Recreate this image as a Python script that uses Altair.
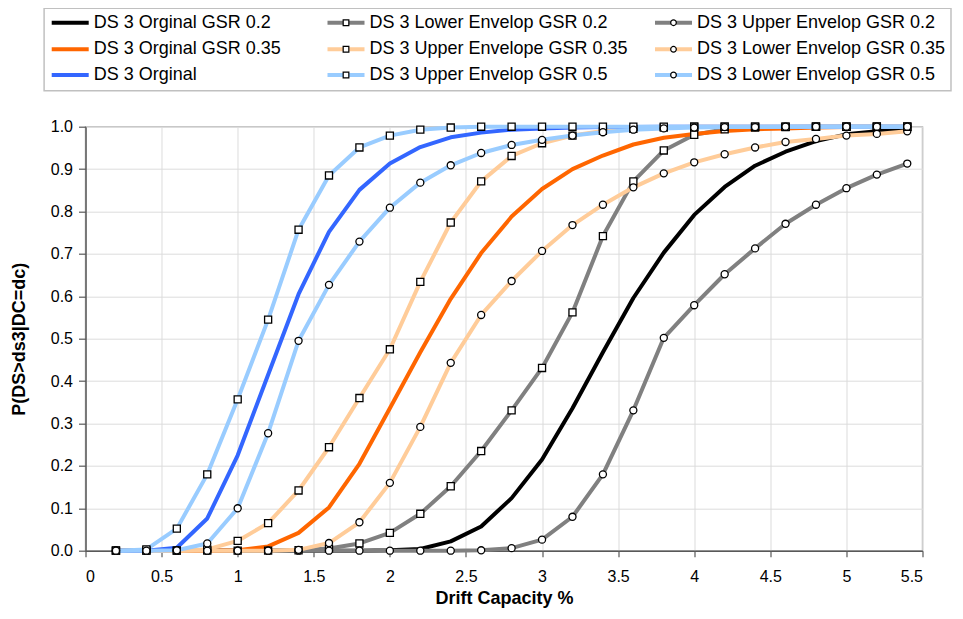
import altair as alt
import pandas as pd

# ---------------- data ----------------
drift = [0.2, 0.4, 0.6, 0.8, 1.0, 1.2, 1.4, 1.6, 1.8, 2.0, 2.2, 2.4, 2.6, 2.8,
         3.0, 3.2, 3.4, 3.6, 3.8, 4.0, 4.2, 4.4, 4.6, 4.8, 5.0, 5.2, 5.4]

series_names = [
    "DS 3 Orginal GSR 0.2", "DS 3 Lower Envelop GSR 0.2", "DS 3 Upper Envelop GSR 0.2",
    "DS 3 Orginal GSR 0.35", "DS 3 Upper Envelope GSR 0.35", "DS 3 Lower Envelop GSR 0.35",
    "DS 3 Orginal", "DS 3 Upper Envelop GSR  0.5", "DS 3 Lower Envelop GSR 0.5",
]
series_markers = ["none", "square", "circle", "none", "square", "circle", "none", "square", "circle"]

orig_02 = [0, 0, 0, 0, 0, 0, 0, 0, 0, 0.001, 0.004, 0.022, 0.057, 0.124,
           0.215, 0.336, 0.468, 0.596, 0.703, 0.792, 0.858, 0.908, 0.941, 0.966, 0.982, 0.989, 0.994]
lower_02 = [0, 0, 0, 0, 0, 0, 0.001, 0.005, 0.017, 0.042, 0.087, 0.152, 0.235, 0.331,
            0.431, 0.562, 0.742, 0.871, 0.944, 0.981, 0.994, 0.998, 0.999, 1.0, 1.0, 1.0, 1.0]
upper_02 = [0, 0, 0, 0, 0, 0, 0, 0, 0, 0, 0, 0, 0.001, 0.006,
            0.026, 0.08, 0.18, 0.331, 0.502, 0.579, 0.652, 0.713, 0.771, 0.816, 0.855, 0.887, 0.913]
orig_035 = [0, 0, 0, 0, 0.001, 0.01, 0.042, 0.102, 0.205, 0.336, 0.468, 0.594, 0.702, 0.788,
            0.853, 0.900, 0.932, 0.958, 0.974, 0.983, 0.990, 0.994, 0.996, 0.998, 0.999, 0.999, 0.999]
upper_035 = [0, 0, 0, 0.003, 0.023, 0.065, 0.142, 0.244, 0.36, 0.475, 0.634, 0.774, 0.871, 0.931,
             0.961, 0.979, 0.990, 0.995, 0.998, 1.0, 1.0, 1.0, 1.0, 1.0, 1.0, 1.0, 1.0]
lower_035 = [0, 0, 0, 0, 0, 0, 0.002, 0.018, 0.067, 0.16, 0.292, 0.443, 0.556, 0.636,
             0.707, 0.768, 0.816, 0.857, 0.89, 0.916, 0.935, 0.951, 0.964, 0.971, 0.979, 0.983, 0.989]
orig_05 = [0, 0, 0.007, 0.076, 0.225, 0.415, 0.605, 0.752, 0.851, 0.913, 0.952, 0.975, 0.986, 0.993,
           0.996, 0.998, 0.999, 0.999, 1.0, 1.0, 1.0, 1.0, 1.0, 1.0, 1.0, 1.0, 1.0]
upper_05 = [0, 0.003, 0.052, 0.18, 0.357, 0.545, 0.757, 0.885, 0.951, 0.979, 0.993, 0.998, 1.0, 1.0,
            1.0, 1.0, 1.0, 1.0, 1.0, 1.0, 1.0, 1.0, 1.0, 1.0, 1.0, 1.0, 1.0]
lower_05 = [0, 0, 0.001, 0.017, 0.1, 0.277, 0.495, 0.627, 0.729, 0.809, 0.868, 0.909, 0.938, 0.957,
            0.969, 0.979, 0.987, 0.993, 0.996, 0.998, 0.999, 0.999, 1.0, 1.0, 1.0, 1.0, 1.0]

series_values = [orig_02, lower_02, upper_02, orig_035, upper_035, lower_035, orig_05, upper_05, lower_05]

x_ticks = [0, 0.5, 1, 1.5, 2, 2.5, 3, 3.5, 4, 4.5, 5, 5.5]
y_ticks = [0, 0.1, 0.2, 0.3, 0.4, 0.5, 0.6, 0.7, 0.8, 0.9, 1.0]

# ---------------- styles ----------------
series_colors = ["#000000", "#808080", "#808080", "#ff6600", "#ffcc99", "#ffcc99",
                 "#3366ff", "#99ccff", "#99ccff"]
series_widths = [4, 4, 4, 4, 4.5, 4.5, 4, 4.5, 4.5]
FONT = "Liberation Sans"

rows = []
for name, mk, vals in zip(series_names, series_markers, series_values):
    for i, (dx, v) in enumerate(zip(drift, vals)):
        rows.append({"series": name, "marker": mk, "dc": dx, "p": v, "idx": i})
df = pd.DataFrame(rows)

color = alt.Color("series:N", scale=alt.Scale(domain=series_names, range=series_colors), legend=None)
swidth = alt.StrokeWidth("series:N", scale=alt.Scale(domain=series_names, range=series_widths), legend=None)
shape = alt.Shape("marker:N", scale=alt.Scale(domain=["square", "circle"], range=["square", "circle"]), legend=None)

x_enc = alt.X("dc:Q", scale=alt.Scale(domain=[0, 5.5], nice=False, zero=False),
              axis=alt.Axis(values=x_ticks, format="~g", title="Drift Capacity %",
                            tickSize=6, labelPadding=12, titlePadding=5))
y_enc = alt.Y("p:Q", scale=alt.Scale(domain=[0, 1], nice=False),
              axis=alt.Axis(values=y_ticks, format=".1f", title="P(DS>ds3|DC=dc)",
                            tickSize=7, labelPadding=6, titlePadding=22))

lines = alt.Chart(df).mark_line(strokeCap="butt", strokeJoin="round").encode(
    x=x_enc, y=y_enc, color=color, strokeWidth=swidth, detail="series:N", order="idx:Q")
points = alt.Chart(df).transform_filter(alt.datum.marker != "none").mark_point(
    filled=True, fill="white", stroke="black", strokeWidth=1.3, size=50, opacity=1
).encode(x="dc:Q", y="p:Q", shape=shape)

main = alt.layer(lines, points)

# ---------------- legend (drawn as marks through its own scales) ----------------
leg = pd.DataFrame({
    "series": series_names,
    "marker": series_markers,
    "col": [i % 3 for i in range(len(series_names))],
    "row": [i // 3 for i in range(len(series_names))],
})
LEG_COL_PX = [-33.8, 242, 569.5]
LEG_ROW_PX = [-104, -77.4, -51.7]
lx = alt.X("col:Q", scale=alt.Scale(domain=[0, 1, 2], range=LEG_COL_PX, nice=False, zero=False), axis=None)
ly = alt.Y("row:Q", scale=alt.Scale(domain=[0, 1, 2], range=LEG_ROW_PX, nice=False, zero=False), axis=None)

box_df = pd.DataFrame({"c0": [0], "c1": [2], "r0": [0], "r1": [2]})
leg_box = alt.Chart(box_df).mark_rect(
    fillOpacity=0, stroke="#c0c0c0", strokeWidth=1.5,
    xOffset=-7.6, x2Offset=296, yOffset=-14.4, y2Offset=15.7
).encode(x=alt.X("c0:Q", axis=None), x2="c1:Q", y=alt.Y("r0:Q", axis=None), y2="r1:Q")

leg_lines = alt.Chart(leg).mark_rule(x2Offset=37, strokeCap="butt").encode(
    x=lx, x2="col:Q", y=ly, color=color, strokeWidth=swidth)
leg_pts = alt.Chart(leg).transform_filter(alt.datum.marker != "none").mark_point(
    filled=True, fill="white", stroke="black", strokeWidth=1.2, size=32, opacity=1, xOffset=18.5
).encode(x="col:Q", y="row:Q", shape=shape)
leg_text = alt.Chart(leg).mark_text(
    align="left", baseline="middle", dx=42, fontSize=18, font=FONT, color="black"
).encode(x="col:Q", y="row:Q", text="series:N")

legend = alt.layer(leg_box, leg_lines, leg_pts, leg_text)

chart = alt.layer(main, legend).resolve_scale(
    x="independent", y="independent"
).properties(
    width=837, height=424,
    autosize=alt.AutoSizeParams(type="none"),
    padding={"left": 77.5, "top": 118.7, "right": 32, "bottom": 60},
).configure_view(
    stroke="#bfbfbf", strokeWidth=1.5
).configure_axis(
    domainColor="#595959", domainWidth=1.5, tickColor="#595959", tickWidth=1.2,
    gridColor="#dcdcdc", gridWidth=1,
    labelFont=FONT, labelFontSize=16, labelColor="black",
    titleFont=FONT, titleFontSize=18, titleFontWeight="bold", titleColor="black",
)

chart.save("out.html", embed_options={"renderer": "svg", "actions": False})
